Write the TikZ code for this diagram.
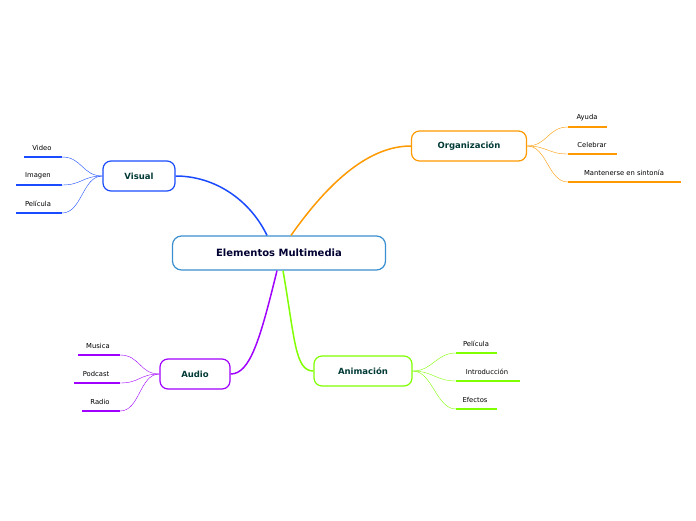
\documentclass[tikz,border=0pt]{standalone}
\usepackage{fontspec}
\setmainfont{DejaVu Sans}
\usetikzlibrary{calc}
\usetikzlibrary{positioning}
\definecolor{cvis}{HTML}{1A4BFF}
\definecolor{corg}{HTML}{FF9900}
\definecolor{caud}{HTML}{A000FF}
\definecolor{cani}{HTML}{80FF00}
\definecolor{ccen}{HTML}{3A8FD0}
\definecolor{ctxt}{HTML}{003A36}
\tikzset{
    mainnode/.style = {draw=ccen, line width=1.2pt, rounded corners=9pt, fill=white,
        minimum width=213pt, minimum height=34pt, font=\fontsize{10}{12}\selectfont\bfseries,
        text=black!80!blue},% nodo central
    topic/.style = {draw=#1, line width=1.2pt, rounded corners=8pt, fill=white,
        minimum height=30pt, font=\fontsize{8.5}{10}\selectfont\bfseries, text=ctxt},% rama
    leaf/.style = {font=\fontsize{6.8}{8}\selectfont, inner sep=1pt},% hoja
    uline/.style = {draw=#1, line width=2pt},
    thin/.style = {draw=#1, line width=0.4pt},
    thick/.style = {draw=#1, line width=1.5pt},
}
\begin{document}
\begin{tikzpicture}[x=1pt,y=-1pt]
\useasboundingbox (0,0) rectangle (696,520);
\node [mainnode] (cen) at (279,253) {Elementos Multimedia};
\node [topic=cvis, minimum width=72pt] (vis) at (139,176) {Visual};
\node [topic=corg, minimum width=115pt] (org) at (469,146) {Organización};
\node [topic=caud, minimum width=70pt] (aud) at (195,374) {Audio};
\node [topic=cani, minimum width=98pt] (ani) at (363,371) {Animación};
% ramas principales
\draw [thick=cvis] ($(cen.north)+(-12,0)$) .. controls (250,200) and (215,176) .. (vis.east);
\draw [thick=corg] ($(cen.north)+(12,0)$) .. controls (330,180) and (370,146) .. (org.west);
\draw [thick=caud] ($(cen.south)+(-2,0)$) .. controls (260,340) and (250,374) .. (aud.east);
\draw [thick=cani] ($(cen.south)+(4,0)$) .. controls (295,340) and (295,371) .. (ani.west);
% hojas
\foreach \t/\n/\x/\y/\a/\b in {Video/v1/42/148/24/62, Imagen/v2/38/176/16/62, Película/v3/38/204/16/62}{
    \node [leaf] (\n) at (\x,\y) {\t};
    \coordinate (\n l) at (\a,\y+9); \coordinate (\n r) at (\b,\y+9);
    \draw [uline=cvis] (\n l) -- (\n r);
    \draw [thin=cvis] (vis.west) .. controls ($(vis.west)+(-20,0)$) and ($(\n r)+(20,0)$) .. (\n r);
}
\foreach \t/\n/\x/\y/\a/\b in {Ayuda/o1/587/118/568/607, Celebrar/o2/592/145/568/617, Mantenerse en sintonía/o3/624/173/568/681}{
    \node [leaf] (\n) at (\x,\y) {\t};
    \coordinate (\n l) at (\a,\y+9); \coordinate (\n r) at (\b,\y+9);
    \draw [uline=corg] (\n l) -- (\n r);
    \draw [thin=corg] (org.east) .. controls ($(org.east)+(20,0)$) and ($(\n l)+(-20,0)$) .. (\n l);
}
\foreach \t/\n/\x/\y/\a/\b in {Musica/a1/98/346/78/120, Podcast/a2/96/374/74/120, Radio/a3/100/402/82/120}{
    \node [leaf] (\n) at (\x,\y) {\t};
    \coordinate (\n l) at (\a,\y+9); \coordinate (\n r) at (\b,\y+9);
    \draw [uline=caud] (\n l) -- (\n r);
    \draw [thin=caud] (aud.west) .. controls ($(aud.west)+(-20,0)$) and ($(\n r)+(20,0)$) .. (\n r);
}
\foreach \t/\n/\x/\y/\a/\b in {Película/n1/476/344/456/497, Introducción/n2/487/372/456/520, Efectos/n3/475/400/456/497}{
    \node [leaf] (\n) at (\x,\y) {\t};
    \coordinate (\n l) at (\a,\y+9); \coordinate (\n r) at (\b,\y+9);
    \draw [uline=cani] (\n l) -- (\n r);
    \draw [thin=cani] (ani.east) .. controls ($(ani.east)+(20,0)$) and ($(\n l)+(-20,0)$) .. (\n l);
}
\end{tikzpicture}
\end{document}
